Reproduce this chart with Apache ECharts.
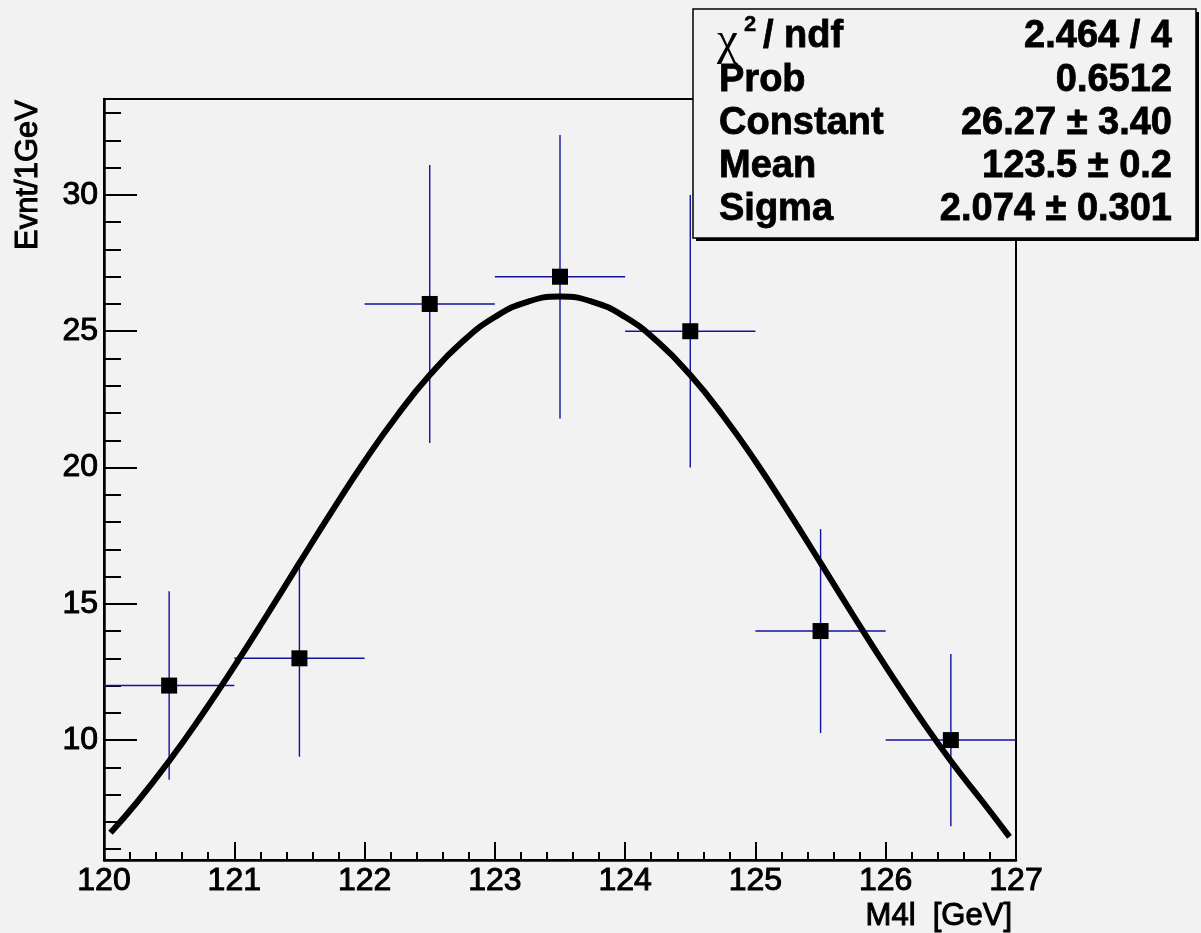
<!DOCTYPE html>
<html><head><meta charset="utf-8">
<script src="https://cdn.jsdelivr.net/npm/echarts@6/dist/echarts.min.js"></script>
<style>html,body{margin:0;padding:0;background:#f2f2f2}#c{width:1201px;height:933px}</style>
</head><body><div id="c"></div>
<script>
// ---- data ----
const binCenters = [120.5, 121.5, 122.5, 123.5, 124.5, 125.5, 126.5];
const binLow     = [120, 121, 122, 123, 124, 125, 126];
const binHigh    = [121, 122, 123, 124, 125, 126, 127];
const counts     = [12, 13, 26, 27, 25, 14, 10];
const errors     = [3.46, 3.61, 5.10, 5.20, 5.00, 3.74, 3.16];
const fitX = [120.05,120.25,120.5,120.75,121,121.25,121.5,121.75,122,122.25,122.5,122.75,123,123.25,123.5,
              123.75,124,124.25,124.5,124.75,125,125.25,125.5,125.75,126,126.25,126.5,126.75,126.95];
const fitY = [6.6,7.7,9.23,10.91,12.7,14.58,16.5,18.4,20.23,21.91,23.39,24.61,25.52,26.08,26.27,
              26.08,25.52,24.61,23.39,21.91,20.23,18.4,16.5,14.58,12.7,10.91,9.23,7.7,6.45];
const yMajorTicks = [10, 15, 20, 25, 30];
const yMinorTicks = [6,7,8,9,11,12,13,14,16,17,18,19,21,22,23,24,26,27,28,29,31,32,33];
const xTitle = 'M4l  [GeV]';
const yTitle = 'Evnt/1GeV';
const statsLabels = ['/ ndf', 'Prob', 'Constant', 'Mean', 'Sigma'];
const statsValues = ['2.464 / 4', '0.6512', '26.27 \u00b1 3.40', '123.5 \u00b1 0.2', '2.074 \u00b1 0.301'];

// ---- chart ----
const FONT = '"Liberation Sans", Arial, Helvetica, sans-serif';
const chart = echarts.init(document.getElementById('c'));

const errData = binCenters.map((x, i) => [x, counts[i], errors[i], binLow[i], binHigh[i]]);
const ptData = binCenters.map((x, i) => [x, counts[i]]);
const fitData = fitX.map((x, i) => [x, fitY[i]]);

const statsRowY = [37, 81, 124, 167, 210];
const boldStats = {font:'bold 38px ' + FONT, fill:'#000', stroke:'#000', lineWidth:0.8, textVerticalAlign:'middle'};
const statsGraphics = [];
statsLabels.forEach((t, i) => {
  if (i === 0) {
    statsGraphics.push({type:'text', x:717, y:statsRowY[0]+5, z:110,
      style:{text:'\u03c7', font:'normal 47px "Liberation Serif", "DejaVu Serif", serif', fill:'#000', textVerticalAlign:'middle'}});
    statsGraphics.push({type:'text', x:744, y:statsRowY[0]-12, z:110,
      style:Object.assign({}, boldStats, {text:'2', font:'bold 22px ' + FONT, lineWidth:0.4})});
    statsGraphics.push({type:'text', x:763, y:statsRowY[0], z:110,
      style:Object.assign({}, boldStats, {text:t})});
  } else {
    statsGraphics.push({type:'text', x:719, y:statsRowY[i], z:110,
      style:Object.assign({}, boldStats, {text:t})});
  }
  statsGraphics.push({type:'text', x:1172, y:statsRowY[i], z:110,
    style:Object.assign({}, boldStats, {text:statsValues[i], textAlign:'right'})});
});

const tickLabel = {color:'#000', fontSize:32, fontFamily:FONT, textBorderColor:'#000', textBorderWidth:1.0};

const option = {
  backgroundColor: '#f2f2f2',
  animation: false,
  grid: {left:104, right:185, top:99, bottom:73, show:true, borderColor:'#000', borderWidth:2,
         backgroundColor:'transparent', outerBoundsMode:'none'},
  xAxis: {
    type:'value', min:120, max:127, interval:1,
    axisLine:{show:true, onZero:false, lineStyle:{color:'#000', width:2.5}},
    axisTick:{show:true, inside:true, length:18, lineStyle:{color:'#000', width:2}},
    minorTick:{show:true, splitNumber:5, length:8, lineStyle:{color:'#000', width:2}},
    axisLabel:Object.assign({margin:5}, tickLabel),
    splitLine:{show:false}
  },
  yAxis: [{
    type:'value', min:5.6, max:33.52,
    axisLine:{show:true, onZero:false, lineStyle:{color:'#000', width:2.5}},
    axisTick:{show:true, inside:true, length:33, customValues:yMajorTicks, lineStyle:{color:'#000', width:2}},
    axisLabel:Object.assign({margin:6, customValues:yMajorTicks}, tickLabel),
    splitLine:{show:false}
  }, {
    type:'value', min:5.6, max:33.52, position:'left',
    axisLine:{show:false},
    axisTick:{show:true, inside:true, length:17, customValues:yMinorTicks, lineStyle:{color:'#000', width:2}},
    axisLabel:{show:false},
    splitLine:{show:false}
  }],
  series: [{
    type:'custom', data:errData, z:2, clip:false,
    renderItem: function (params, api) {
      const x = api.value(0), y = api.value(1), e = api.value(2), lo = api.value(3), hi = api.value(4);
      const pL = api.coord([lo, y]), pR = api.coord([hi, y]);
      const pT = api.coord([x, y + e]), pB = api.coord([x, y - e]);
      const st = {stroke:'#1212a0', lineWidth:1.4};
      return {type:'group', children:[
        {type:'line', shape:{x1:pL[0], y1:pL[1], x2:pR[0], y2:pR[1]}, style:st},
        {type:'line', shape:{x1:pT[0], y1:pT[1], x2:pB[0], y2:pB[1]}, style:st}
      ]};
    }
  }, {
    type:'scatter', data:ptData, symbol:'rect', symbolSize:16, z:3,
    itemStyle:{color:'#000', opacity:1}
  }, {
    type:'line', data:fitData, smooth:true, showSymbol:false, z:4,
    lineStyle:{color:'#000', width:6}
  }],
  graphic: [
    {type:'text', x:28, y:100, rotation:Math.PI/2, z:100,
     style:{text:yTitle, font:'normal 31px ' + FONT, fill:'#000', stroke:'#000', lineWidth:1.0, textAlign:'right', textVerticalAlign:'middle'}},
    {type:'text', x:1012, y:916, z:100,
     style:{text:xTitle, font:'normal 31px ' + FONT, fill:'#000', stroke:'#000', lineWidth:1.0, textAlign:'right', textVerticalAlign:'middle'}},
    {type:'rect', shape:{x:696, y:12, width:503, height:229}, z:101, style:{fill:'#000'}},
    {type:'rect', shape:{x:693, y:9, width:503, height:229}, z:102, style:{fill:'#f2f2f2', stroke:'#000', lineWidth:1.5}}
  ].concat(statsGraphics)
};
chart.setOption(option);
</script>
</body></html>
